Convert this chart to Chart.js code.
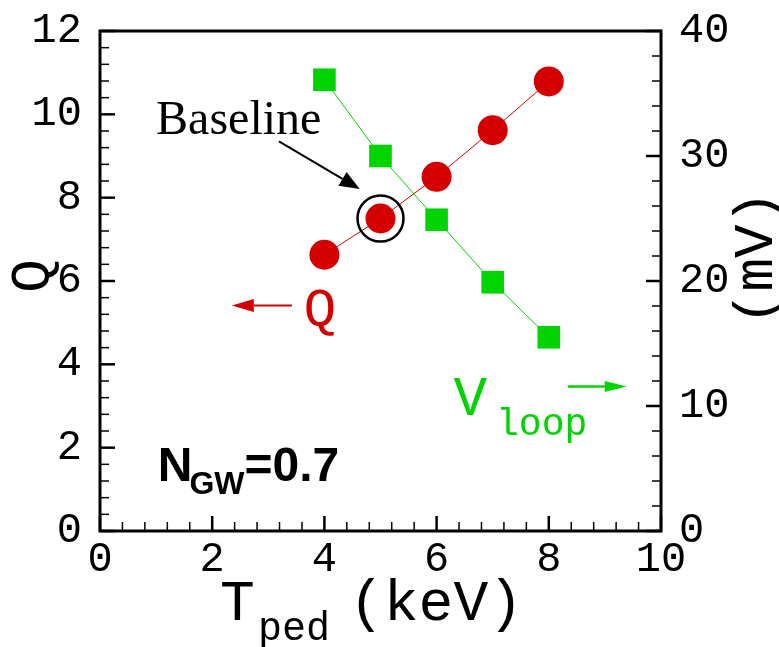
<!DOCTYPE html>
<html>
<head>
<meta charset="utf-8">
<title>Q and Vloop vs Tped</title>
<script src="https://cdn.jsdelivr.net/npm/chart.js@4.4.1/dist/chart.umd.min.js"></script>
<style>
  html, body { margin: 0; padding: 0; background: #fff; }
  #wrap { width: 779px; height: 647px; position: relative; }
</style>
</head>
<body>
<div id="wrap"><canvas id="qChart"></canvas></div>
<script>
//---------------------------------------------------------
// Data
const tped = [4, 5, 6, 7, 8];                         // pedestal temperature (keV)
const qValues = [6.63, 7.50, 8.50, 9.62, 10.79];       // Q, left axis
const vloopValues = [36.1, 30.0, 24.9, 19.9, 15.5];    // V_loop (mV), right axis
const baselineIndex = 1;                               // baseline case at Tped = 5 keV

// Tick labels
const xTicks = [0, 2, 4, 6, 8, 10];
const qTicks = [0, 2, 4, 6, 8, 10, 12];
const vTicks = [0, 10, 20, 30, 40];

const RED = "#d40000";
const GREEN = "#00d400";
const MONO = "'Liberation Mono', 'DejaVu Sans Mono', monospace";

//---------------------------------------------------------
// Helpers
function arrow(ctx, x1, y1, x2, y2, color, lw, headLen, headHalf) {
  const a = Math.atan2(y2 - y1, x2 - x1);
  ctx.save();
  ctx.strokeStyle = color;
  ctx.fillStyle = color;
  ctx.lineWidth = lw;
  ctx.beginPath();
  ctx.moveTo(x1, y1);
  ctx.lineTo(x2 - headLen * Math.cos(a), y2 - headLen * Math.sin(a));
  ctx.stroke();
  ctx.translate(x2, y2);
  ctx.rotate(a);
  ctx.beginPath();
  ctx.moveTo(0, 0);
  ctx.lineTo(-headLen, -headHalf);
  ctx.lineTo(-headLen, headHalf);
  ctx.closePath();
  ctx.fill();
  ctx.restore();
}

// inward tick marks: 4 minor ticks between labelled ones
function tickMarks(ctx, values, toPx, drawTick) {
  for (let i = 0; i < values.length - 1; i++) {
    const step = (values[i + 1] - values[i]) / 5;
    for (let k = 0; k < 5; k++) drawTick(toPx(values[i] + k * step), k === 0);
  }
  drawTick(toPx(values[values.length - 1]), true);
}

//---------------------------------------------------------
// Frame, ticks, titles and annotations (Tecplot look)
const framePlugin = {
  id: "frame",
  afterDraw(chart) {
    const ctx = chart.ctx;
    const { left, right, top, bottom } = chart.chartArea;
    const sx = chart.scales.x, sy = chart.scales.y, sv = chart.scales.y2;
    const px = (v) => sx.getPixelForValue(v);
    const py = (v) => sy.getPixelForValue(v);

    ctx.save();
    ctx.strokeStyle = "#000";

    // tick marks
    const major = 15, minor = 9;
    tickMarks(ctx, qTicks, py, (y, big) => {
      ctx.lineWidth = big ? 2.5 : 1.5;
      ctx.beginPath(); ctx.moveTo(left, y); ctx.lineTo(left + (big ? major : minor), y); ctx.stroke();
    });
    tickMarks(ctx, vTicks, (v) => sv.getPixelForValue(v), (y, big) => {
      ctx.lineWidth = big ? 2.5 : 1.5;
      ctx.beginPath(); ctx.moveTo(right, y); ctx.lineTo(right - (big ? major : minor), y); ctx.stroke();
    });
    tickMarks(ctx, xTicks, px, (x, big) => {
      ctx.lineWidth = big ? 2.5 : 1.5;
      ctx.beginPath(); ctx.moveTo(x, bottom); ctx.lineTo(x, bottom - (big ? major : minor)); ctx.stroke();
    });

    // box
    ctx.lineWidth = 3;
    ctx.strokeRect(left, top, right - left, bottom - top);

    // axis titles
    ctx.fillStyle = "#000";
    ctx.textBaseline = "alphabetic";
    ctx.textAlign = "left";
    ctx.font = "58px " + MONO;
    ctx.fillText("T", 220, 620);
    ctx.fillText("(keV)", 349, 620);
    ctx.font = "40px " + MONO;
    ctx.fillText("ped", 258, 640);

    ctx.save();
    ctx.translate(49, 276);
    ctx.rotate(-Math.PI / 2);
    ctx.textAlign = "center";
    ctx.font = "56px " + MONO;
    ctx.fillText("Q", 0, 0);
    ctx.restore();

    ctx.save();
    ctx.translate(772, 258);
    ctx.rotate(-Math.PI / 2);
    ctx.textAlign = "center";
    ctx.font = "56px " + MONO;
    ctx.fillText("(mV)", 0, 0);
    ctx.restore();

    // Baseline label and arrow
    ctx.font = "48px 'Liberation Serif', 'DejaVu Serif', serif";
    ctx.fillText("Baseline", px(1.0), py(9.54));
    arrow(ctx, px(3.19), py(9.35), px(4.63), py(8.21), "#000", 2, 20, 8);

    // Q label, arrow pointing at left axis
    arrow(ctx, px(3.42), py(5.41), px(2.35), py(5.41), RED, 2, 22, 6.5);
    ctx.fillStyle = RED;
    ctx.font = "54px " + MONO;
    ctx.fillText("Q", px(3.63), py(4.93));

    // Vloop label, arrow pointing at right axis
    ctx.fillStyle = GREEN;
    ctx.font = "56px " + MONO;
    ctx.fillText("V", px(6.30), py(2.79));
    ctx.font = "38px " + MONO;
    ctx.fillText("loop", px(7.06), py(2.31));
    arrow(ctx, px(8.34), py(3.47), px(9.39), py(3.47), GREEN, 2.5, 22, 5.5);

    // density label
    ctx.fillStyle = "#000";
    ctx.font = "bold 48px 'Liberation Sans', Arial, sans-serif";
    let x = px(1.03);
    const yb = py(1.2);
    ctx.fillText("N", x, yb);
    x += ctx.measureText("N").width - 3;
    ctx.font = "bold 32px 'Liberation Sans', Arial, sans-serif";
    ctx.fillText("GW", x, yb + 13);
    x += ctx.measureText("GW").width;
    ctx.font = "bold 48px 'Liberation Sans', Arial, sans-serif";
    ctx.fillText("=0.7", x, yb);

    ctx.restore();
  },
};

//---------------------------------------------------------
// Axis helpers
function fixedTicks(values) {
  return (scale) => { scale.ticks = values.map((v) => ({ value: v })); };
}
const tickFont = { family: MONO, size: 42, lineHeight: 1 };

//---------------------------------------------------------
// Chart
new Chart(document.getElementById("qChart"), {
  type: "line",
  data: {
    datasets: [
      {
        label: "Baseline",
        data: [{ x: tped[baselineIndex], y: qValues[baselineIndex] }],
        yAxisID: "y",
        showLine: false,
        pointRadius: 23,
        pointBorderWidth: 2.5,
        pointBorderColor: "#000",
        pointBackgroundColor: "rgba(0,0,0,0)",
      },
      {
        label: "Q",
        data: tped.map((t, i) => ({ x: t, y: qValues[i] })),
        yAxisID: "y",
        borderColor: RED,
        borderWidth: 1,
        pointStyle: "circle",
        pointRadius: 15,
        pointBorderWidth: 0,
        pointBackgroundColor: RED,
      },
      {
        label: "Vloop",
        data: tped.map((t, i) => ({ x: t, y: vloopValues[i] })),
        yAxisID: "y2",
        borderColor: GREEN,
        borderWidth: 1,
        pointStyle: "rect",
        pointRadius: 16,
        pointBorderWidth: 0,
        pointBackgroundColor: GREEN,
      },
    ],
  },
  options: {
    responsive: true,
    maintainAspectRatio: false,
    animation: false,
    events: [],
    layout: { padding: { top: 23, left: 0, right: 0, bottom: 0 } },
    scales: {
      x: {
        type: "linear",
        min: xTicks[0],
        max: xTicks[xTicks.length - 1],
        afterBuildTicks: fixedTicks(xTicks),
        afterFit: (s) => { s.height = 116; },
        grid: { display: false },
        border: { display: false },
        ticks: { font: tickFont, color: "#000", padding: 0, maxRotation: 0 },
      },
      y: {
        position: "left",
        min: qTicks[0],
        max: qTicks[qTicks.length - 1],
        afterBuildTicks: fixedTicks(qTicks),
        afterFit: (s) => { s.width = 100; },
        grid: { display: false },
        border: { display: false },
        ticks: { font: tickFont, color: "#000", padding: 10 },
      },
      y2: {
        position: "right",
        min: vTicks[0],
        max: vTicks[vTicks.length - 1],
        afterBuildTicks: fixedTicks(vTicks),
        afterFit: (s) => { s.width = 118; },
        grid: { display: false },
        border: { display: false },
        ticks: { font: tickFont, color: "#000", padding: 10 },
      },
    },
    plugins: {
      legend: { display: false },
      tooltip: { enabled: false },
    },
  },
  plugins: [framePlugin],
});
</script>
</body>
</html>
